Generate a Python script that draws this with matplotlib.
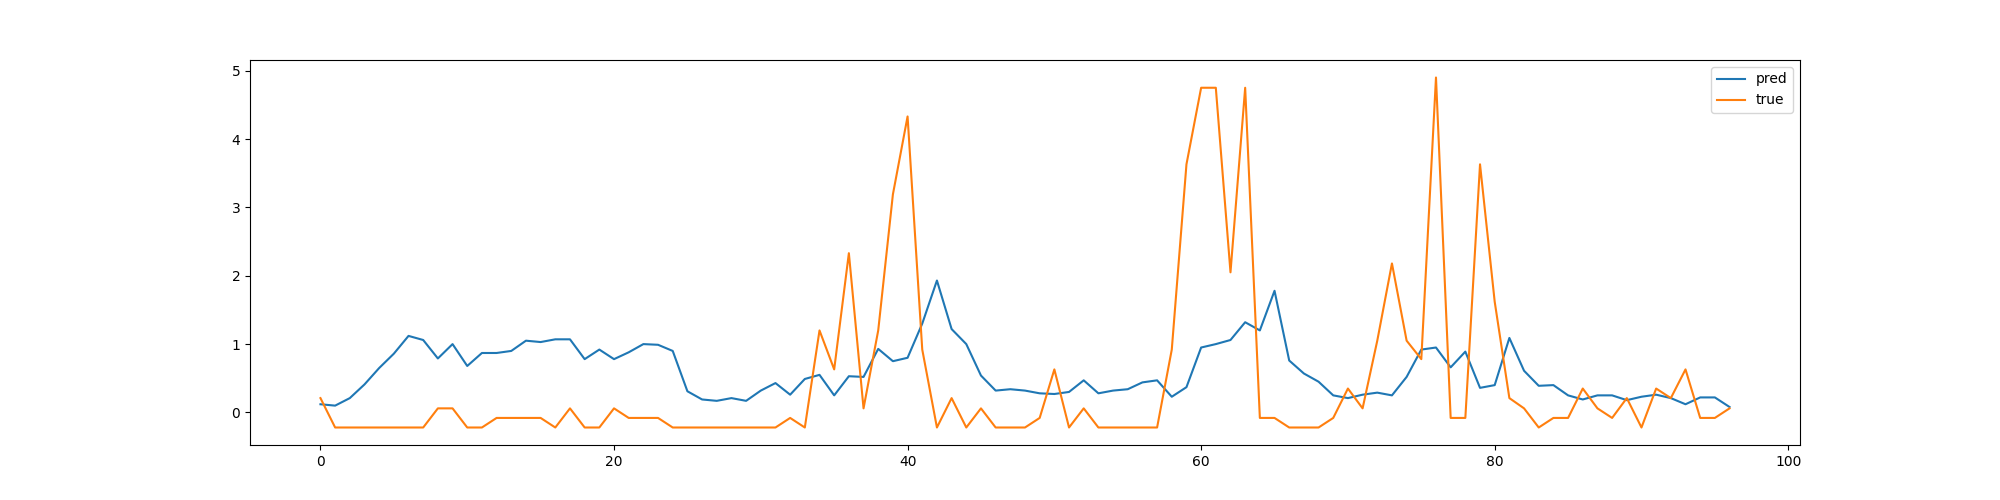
import matplotlib
matplotlib.use("Agg")
import matplotlib.pyplot as plt

pred = [
    0.12, 0.10, 0.21, 0.41, 0.65, 0.86, 1.12, 1.06, 0.79, 1.00,
    0.68, 0.87, 0.87, 0.90, 1.05, 1.03, 1.07, 1.07, 0.78, 0.92,
    0.78, 0.88, 1.00, 0.99, 0.90, 0.31, 0.19, 0.17, 0.21, 0.17,
    0.32, 0.43, 0.26, 0.49, 0.55, 0.25, 0.53, 0.52, 0.93, 0.75,
    0.80, 1.30, 1.93, 1.22, 1.00, 0.54, 0.32, 0.34, 0.32, 0.28,
    0.27, 0.30, 0.47, 0.28, 0.32, 0.34, 0.44, 0.47, 0.23, 0.37,
    0.95, 1.00, 1.06, 1.32, 1.20, 1.78, 0.76, 0.57, 0.45, 0.25,
    0.21, 0.26, 0.29, 0.25, 0.52, 0.92, 0.95, 0.66, 0.89, 0.36,
    0.40, 1.09, 0.61, 0.39, 0.40, 0.25, 0.19, 0.25, 0.25, 0.18,
    0.23, 0.26, 0.21, 0.12, 0.22, 0.22, 0.08,
]
true = [
    0.21, -0.22, -0.22, -0.22, -0.22, -0.22, -0.22, -0.22, 0.06, 0.06,
    -0.22, -0.22, -0.08, -0.08, -0.08, -0.08, -0.22, 0.06, -0.22, -0.22,
    0.06, -0.08, -0.08, -0.08, -0.22, -0.22, -0.22, -0.22, -0.22, -0.22,
    -0.22, -0.22, -0.08, -0.22, 1.20, 0.63, 2.33, 0.06, 1.20, 3.19,
    4.33, 0.92, -0.22, 0.21, -0.22, 0.06, -0.22, -0.22, -0.22, -0.08,
    0.63, -0.22, 0.06, -0.22, -0.22, -0.22, -0.22, -0.22, 0.92, 3.63,
    4.75, 4.75, 2.05, 4.75, -0.08, -0.08, -0.22, -0.22, -0.22, -0.08,
    0.35, 0.06, 1.05, 2.18, 1.05, 0.78, 4.90, -0.08, -0.08, 3.63,
    1.62, 0.21, 0.06, -0.22, -0.08, -0.08, 0.35, 0.06, -0.08, 0.21,
    -0.22, 0.35, 0.21, 0.63, -0.08, -0.08, 0.06,
]

fig, ax = plt.subplots(figsize=(20, 5), dpi=100)
ax.plot(pred, label="pred")
ax.plot(true, label="true")
ax.legend()
fig.savefig("out.png")
